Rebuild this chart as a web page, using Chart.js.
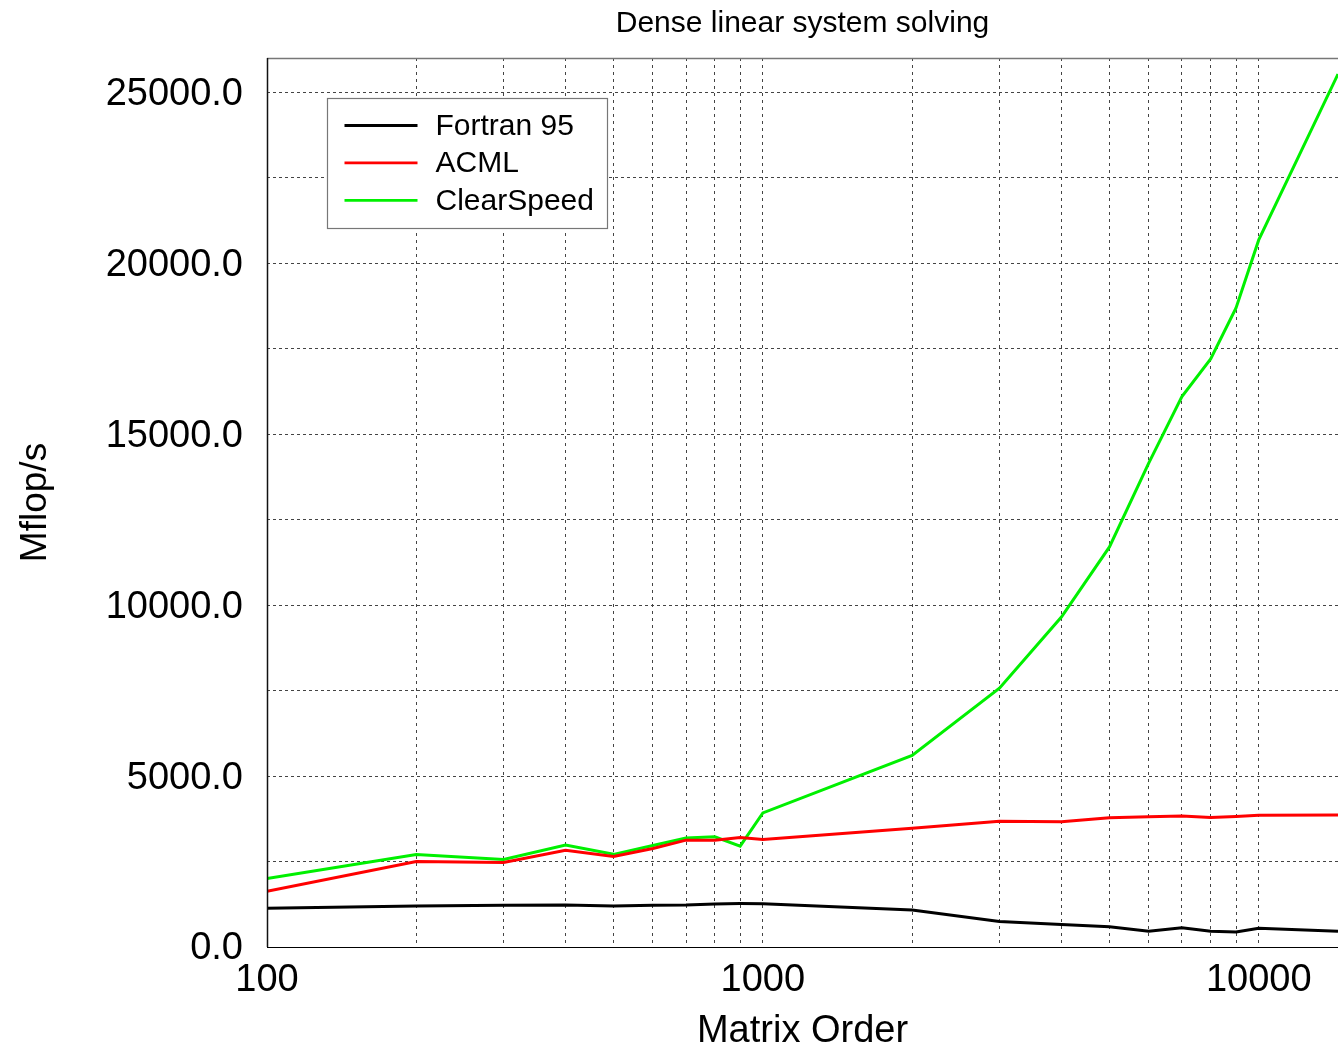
<!DOCTYPE html>
<html>
<head>
<meta charset="utf-8">
<script src="https://cdn.jsdelivr.net/npm/chart.js@4"></script>
<style>
  html, body { margin: 0; padding: 0; background: #fff; }
</style>
</head>
<body>
<canvas id="chart" width="1338" height="1048"></canvas>
<script>
// matrix orders (x) and Mflop/s for each implementation
const matrixOrder = [100, 200, 300, 400, 500, 600, 700, 800, 900, 1000, 2000, 3000, 4000, 5000, 6000, 7000, 8000, 9000, 10000, 14450];
const fortran95  = [1130, 1200, 1220, 1230, 1200, 1220, 1230, 1260, 1270, 1265, 1085, 745, 655, 595, 460, 565, 460, 440, 550, 460];
const acml       = [1630, 2500, 2470, 2830, 2650, 2880, 3125, 3125, 3200, 3145, 3470, 3680, 3660, 3780, 3810, 3830, 3790, 3820, 3850, 3860];
const clearSpeed = [2000, 2705, 2560, 2980, 2710, 2970, 3185, 3225, 2950, 3920, 5600, 7570, 9650, 11700, 14150, 16100, 17200, 18690, 20680, 25530];

const xTicks = [100, 200, 300, 400, 500, 600, 700, 800, 900, 1000, 2000, 3000, 4000, 5000, 6000, 7000, 8000, 9000, 10000];
const xLabels = [100, 1000, 10000];
const yTicks = [0, 2500, 5000, 7500, 10000, 12500, 15000, 17500, 20000, 22500, 25000];

Chart.defaults.font.family = '"Liberation Sans", Arial, sans-serif';
Chart.defaults.color = '#000';

function toPoints(values) {
    return values.map((v, i) => ({ x: matrixOrder[i], y: v }));
}

// frame lines + legend box inside the plot
const boxPlugin = {
    id: 'boxPlugin',
    afterDraw(chart) {
        const ctx = chart.ctx;
        const a = chart.chartArea;
        ctx.save();
        ctx.strokeStyle = '#777';
        ctx.lineWidth = 1.5;
        ctx.beginPath();
        ctx.moveTo(a.left, a.top + 0.5);
        ctx.lineTo(a.right, a.top + 0.5);
        ctx.stroke();
        ctx.strokeStyle = '#111';
        ctx.beginPath();
        ctx.moveTo(a.left + 0.5, a.top);
        ctx.lineTo(a.left + 0.5, a.bottom);
        ctx.stroke();

        const bx = a.left + 60.5, by = a.top + 40.5, bw = 280, bh = 130;
        ctx.fillStyle = '#fff';
        ctx.fillRect(bx, by, bw, bh);
        ctx.strokeStyle = '#777';
        ctx.lineWidth = 1.2;
        ctx.strokeRect(bx, by, bw, bh);

        ctx.font = '30px "Liberation Sans", Arial, sans-serif';
        ctx.textBaseline = 'middle';
        ctx.textAlign = 'left';
        chart.data.datasets.forEach((ds, i) => {
            const y = by + 27 + i * 37.4;
            ctx.strokeStyle = ds.borderColor;
            ctx.lineWidth = 2.8;
            ctx.beginPath();
            ctx.moveTo(bx + 17, y);
            ctx.lineTo(bx + 90, y);
            ctx.stroke();
            ctx.fillStyle = '#000';
            ctx.fillText(ds.label, bx + 108, y + 1);
        });
        ctx.restore();
    }
};

new Chart(document.getElementById('chart'), {
    type: 'line',
    data: {
        datasets: [
            { label: 'Fortran 95', data: toPoints(fortran95), borderColor: '#000000' },
            { label: 'ACML', data: toPoints(acml), borderColor: '#ff0000' },
            { label: 'ClearSpeed', data: toPoints(clearSpeed), borderColor: '#00f000' }
        ]
    },
    options: {
        responsive: false,
        animation: false,
        layout: { padding: 0 },
        elements: {
            line: { borderWidth: 3, tension: 0 },
            point: { radius: 0 }
        },
        plugins: {
            legend: { display: false },
            tooltip: { enabled: false },
            title: {
                display: true,
                text: 'Dense linear system solving',
                fullSize: false,
                font: { size: 30, weight: 'normal', lineHeight: 1.2 },
                padding: { top: 6, bottom: 16 }
            }
        },
        scales: {
            x: {
                type: 'logarithmic',
                min: 100,
                max: 14450,
                afterBuildTicks: scale => { scale.ticks = xTicks.map(v => ({ value: v })); },
                afterFit: scale => { scale.height = 101; },
                grid: { color: '#444', lineWidth: 1, drawTicks: false, tickLength: 0 },
                border: { display: true, color: '#000', width: 1, dash: [3, 4] },
                ticks: {
                    autoSkip: false,
                    maxRotation: 0,
                    padding: 11,
                    font: { size: 38 },
                    callback: v => xLabels.includes(v) ? String(v) : ''
                },
                title: {
                    display: true,
                    text: 'Matrix Order',
                    font: { size: 38, lineHeight: 1 },
                    padding: { top: 0, bottom: -3 }
                }
            },
            y: {
                type: 'linear',
                min: 0,
                max: 26000,
                afterBuildTicks: scale => { scale.ticks = yTicks.map(v => ({ value: v })); },
                afterFit: scale => { scale.width = 267; },
                grid: { color: '#444', lineWidth: 1, drawTicks: false, tickLength: 0 },
                border: { display: false, dash: [3, 3] },
                ticks: {
                    padding: 24,
                    labelOffset: 2,
                    font: { size: 38 },
                    callback: v => v % 5000 === 0 ? v.toFixed(1) : ''
                },
                title: {
                    display: true,
                    text: 'Mflop/s',
                    font: { size: 37, lineHeight: 1 },
                    padding: { top: 17, bottom: 0 }
                }
            }
        }
    },
    plugins: [boxPlugin]
});
</script>
</body>
</html>
